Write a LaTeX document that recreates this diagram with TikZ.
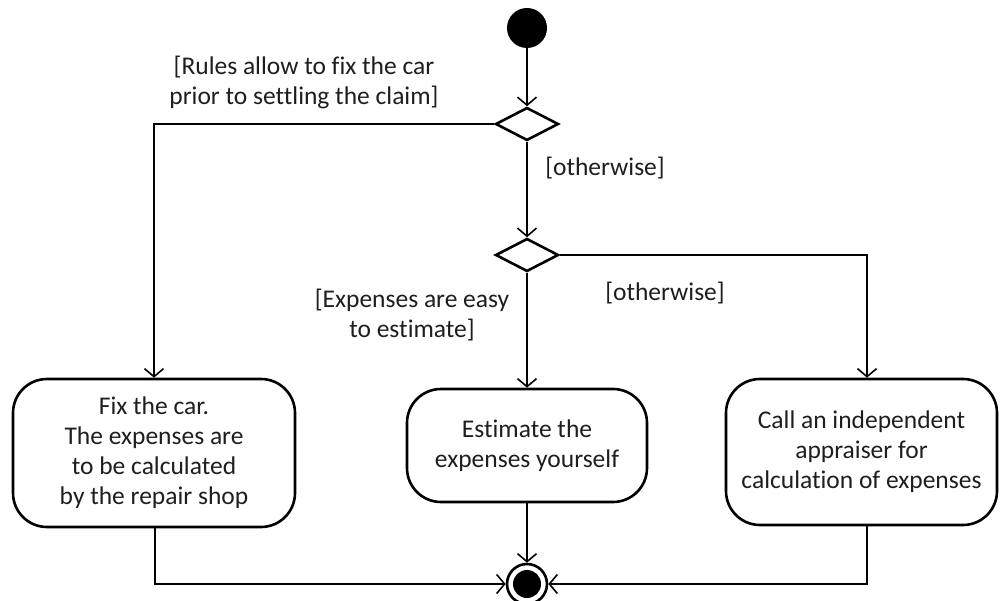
\documentclass[tikz,border=0pt]{standalone}
\usepackage{fontspec}
\setmainfont{Carlito}[Ligatures={NoCommon,NoRare,NoDiscretionary}]
\usetikzlibrary{shapes.geometric,arrows.meta}
\definecolor{txt}{HTML}{1E1E1E}
\begin{document}
\begin{tikzpicture}[x=1pt,y=-1pt,
  every node/.style={text=txt,font=\fontsize{25.5}{30}\selectfont},
  act/.style={draw,line width=2.6pt,rounded corners=34pt,align=center,inner sep=0pt},
  dec/.style={draw,diamond,aspect=1.9,line width=2.6pt,minimum width=63pt,minimum height=33pt,inner sep=0pt},
  arr/.style={line width=1.6pt,-{Straight Barb[length=8pt,width=19pt,line width=1.6pt]}},
  ln/.style={line width=1.6pt},
  guard/.style={align=center,inner sep=0pt}]
\useasboundingbox (0,0) rectangle (1000,601);
\node[circle,fill=black,minimum size=40pt,inner sep=0pt] (init) at (527,28) {};
\node[dec] (d1) at (527,124) {};
\node[dec] (d2) at (527,255) {};
\node[act,minimum width=282pt,minimum height=148pt] (b1) at (154,453)
  {Fix the car.\\The expenses are\\to be calculated\\by the repair shop};
\node[act,minimum width=240pt,minimum height=113pt] (b2) at (527,445.5)
  {Estimate the\\expenses yourself};
\node[act,minimum width=271pt,minimum height=146pt] (b3) at (861.5,452)
  {Call an independent\\appraiser for\\calculation of expenses};
\node[circle,draw,line width=2.6pt,minimum size=40pt,inner sep=0pt] (fin) at (527,584) {};
\fill (fin.center) circle (14pt);
\path (b3.north) ++(5.5,0) coordinate (b3t);
\path (b3.south) ++(5.5,0) coordinate (b3b);
\path (b1.south) ++(1,0) coordinate (b1b);
\draw[arr] (init) -- (d1);
\draw[arr] (d1.west) -| (b1.north);
\draw[arr] (d1) -- (d2);
\draw[arr] (d2) -- (b2);
\draw[arr] (d2.east) -| (b3t);
\draw[arr] (b2) -- (fin);
\draw[arr] (b1b) |- (fin.west);
\draw[arr] (b3b) |- (fin.east);
\node[guard] (g1) at (304,82) {[Rules allow to fix the car\\prior to settling the claim]};
\node[guard] (g2) at (605,168) {[otherwise]};
\node[guard] (g3) at (412,315) {[Expenses are easy\\to estimate]};
\node[guard] (g4) at (665,293) {[otherwise]};
\end{tikzpicture}
\end{document}
